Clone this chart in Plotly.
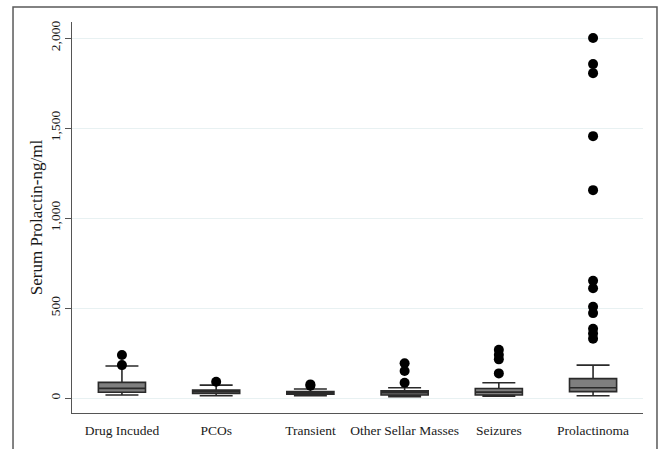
import plotly.graph_objects as go

categories = ["Drug Incuded", "PCOs", "Transient", "Other Sellar Masses", "Seizures", "Prolactinoma"]
q1 = [32, 26, 22, 17, 17, 36]
median = [54, 37, 30, 30, 33, 57]
q3 = [87, 44, 36, 40, 53, 108]
lower_fence = [17, 13, 13, 8, 11, 13]
upper_fence = [178, 72, 50, 57, 85, 183]

outlier_cat = (["Drug Incuded"] * 2 + ["PCOs"] + ["Transient"] * 2 +
               ["Other Sellar Masses"] * 3 + ["Seizures"] * 4 + ["Prolactinoma"] * 12)
outlier_val = [239, 183,
               91,
               76, 68,
               193, 150, 85,
               268, 240, 215, 137,
               2000, 1855, 1805, 1455, 1155, 652, 610, 507, 472, 385, 358, 330]

y_ticks = [0, 500, 1000, 1500, 2000]
y_tick_text = ["0", "500", "1,000", "1,500", "2,000"]

FONT = "Liberation Serif, Times New Roman, serif"

fig = go.Figure()
fig.add_trace(go.Box(
    x=categories, q1=q1, median=median, q3=q3,
    lowerfence=lower_fence, upperfence=upper_fence,
    width=0.5, whiskerwidth=0.7, boxpoints=False,
    fillcolor="#7f7f7f", line=dict(color="#2a2a2a", width=1.6),
    showlegend=False, hoverinfo="skip",
))
fig.add_trace(go.Scatter(
    x=outlier_cat, y=outlier_val, mode="markers",
    marker=dict(color="black", size=10), showlegend=False,
))

# outer frame
fig.add_shape(type="rect", xref="paper", yref="paper",
              x0=-0.1033, x1=1.0245, y0=-0.2, y1=1.0384,
              line=dict(color="#5a5a5a", width=1.5), layer="below")

fig.update_layout(
    width=661, height=449,
    margin=dict(l=72, r=18, t=22, b=36),
    paper_bgcolor="white", plot_bgcolor="white",
    font=dict(family=FONT, color="#1a1a1a", size=13),
    xaxis=dict(
        type="category", range=[-0.53, 5.53],
        showline=True, linecolor="#555", linewidth=1.2,
        ticks="", showgrid=False, tickfont=dict(size=13.5, family=FONT),
        zeroline=False, ticklabelstandoff=5,
    ),
    yaxis=dict(
        range=[-83, 2089], tickvals=y_ticks, ticktext=y_tick_text,
        tickangle=-90, ticks="outside", ticklen=6, tickcolor="#555",
        showline=True, linecolor="#555", linewidth=1.2,
        showgrid=True, gridcolor="#e8f1f2", gridwidth=1,
        zeroline=False, tickfont=dict(size=13.5, family=FONT),
        title=dict(text="Serum Prolactin-ng/ml", font=dict(size=17, family=FONT), standoff=0),
    ),
)

fig.write_html("out.html")
